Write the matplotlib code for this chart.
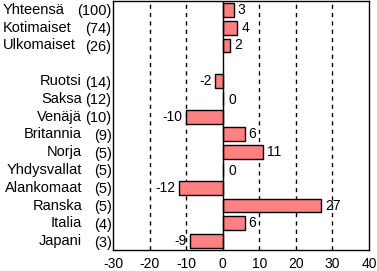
import matplotlib

matplotlib.use("Agg")
import matplotlib.pyplot as plt
import matplotlib.transforms as mtransforms

plt.rcParams["font.family"] = ["Liberation Sans", "DejaVu Sans"]
plt.rcParams["axes.unicode_minus"] = False

# rows from top to bottom; None marks the empty spacer row
names = ["Yhteensä", "Kotimaiset", "Ulkomaiset", None,
         "Ruotsi", "Saksa", "Venäjä", "Britannia", "Norja",
         "Yhdysvallat", "Alankomaat", "Ranska", "Italia", "Japani"]
counts = [100, 74, 26, None, 14, 12, 10, 9, 5, 5, 5, 5, 4, 3]
values = [3, 4, 2, None, -2, 0, -10, 6, 11, 0, -12, 27, 6, -9]
xticks = [-30, -20, -10, 0, 10, 20, 30, 40]

fig = plt.figure(figsize=(3.77, 2.71), dpi=100)
ax = fig.add_axes([113 / 377, 1 - 250 / 271, 256 / 377, 249 / 271])

rows = [i for i, v in enumerate(values) if v is not None]
vals = [values[i] for i in rows]
ax.barh(rows, vals, height=0.78, color="#ff8080", edgecolor="black",
        linewidth=1, zorder=3)

for x in xticks[1:-1]:
    if x == 0:
        ax.axvline(0, color="black", lw=1, zorder=4)
    else:
        ax.axvline(x, color="black", lw=1, ls=(0, (3, 3)), zorder=1)

for i, v in zip(rows, vals):
    if v < 0:
        ax.text(v - 0.9, i, str(v), ha="right", va="center", fontsize=10)
    elif v == 0:
        ax.text(1.5, i + 0.05, "0", ha="left", va="center", fontsize=10)
    else:
        ax.text(v + 1.1, i, str(v), ha="left", va="center", fontsize=10)

ax.set_xlim(-30, 40)
ax.set_ylim(13.5, -0.5)
ax.set_xticks(xticks)
ax.set_xticklabels([str(t) for t in xticks], fontsize=10)
ax.set_yticks(rows)
ax.set_yticklabels([f"({counts[i]})" for i in rows], fontsize=10.5)
ax.tick_params(axis="both", length=0)
ax.tick_params(axis="x", pad=5)
ax.tick_params(axis="y", pad=1)

# country names sit in a column left of the counts
trans = mtransforms.blended_transform_factory(fig.transFigure, ax.transData)
for i in rows:
    if i < 3:
        ax.text(3 / 377, i, names[i], ha="left", va="center", fontsize=10.5,
                transform=trans)
    else:
        ax.text(82 / 377, i, names[i], ha="right", va="center", fontsize=10.5,
                transform=trans)

for s in ax.spines.values():
    s.set_linewidth(1)

fig.savefig("out.png", dpi=100)
